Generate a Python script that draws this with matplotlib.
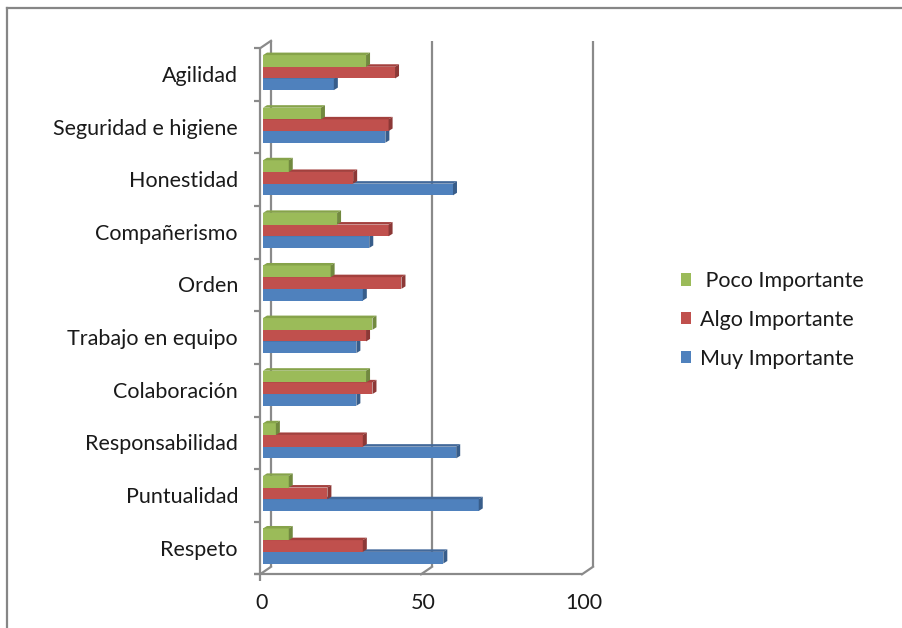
import matplotlib
matplotlib.use("Agg")
import matplotlib.pyplot as plt
from matplotlib.patches import Polygon, Patch
from matplotlib.lines import Line2D

# Survey data (percent of answers per value)
categories = ["Respeto", "Puntualidad", "Responsabilidad", "Colaboración",
              "Trabajo en equipo", "Orden", "Compañerismo", "Honestidad",
              "Seguridad e higiene", "Agilidad"]
muy_importante = [56, 67, 60, 29, 29, 31, 33, 59, 38, 22]
algo_importante = [31, 20, 31, 34, 32, 43, 39, 28, 39, 41]
poco_importante = [8, 8, 4, 32, 34, 21, 23, 8, 18, 32]
series_names = ["Muy Importante", "Algo Importante", " Poco Importante"]
x_ticks = [0, 50, 100]

face_colors = ["#4F81BD", "#C0504D", "#9BBB59"]
side_colors = ["#385D8A", "#8C3836", "#71893F"]
top_colors = ["#43699A", "#A3403D", "#86A34A"]

W, H, DPI = 903, 628, 100
fig = plt.figure(figsize=(W / DPI, H / DPI), dpi=DPI)
ax = fig.add_axes([0, 0, 1, 1])
ax.set_axis_off()

# pixel geometry of the plot
x0_px, px_per_unit = 263.0, 3.22
y0_px, px_per_cat = 546.0, 52.6
ax.set_xlim(-x0_px / px_per_unit, (W - x0_px) / px_per_unit)
ax.set_ylim((y0_px - H) / px_per_cat, y0_px / px_per_cat)


def ux(px):
    return px / px_per_unit


def uy(px):
    return px / px_per_cat


grid_c = "#8A8A8A"
lw = 1.6
n = len(categories)
y_bot, y_top = -0.5, n - 0.5

# plane offsets relative to the bar plane (pixels, y up)
front = (ux(-3), uy(-2))
back = (ux(8), uy(5.5))

# back wall grid lines and floor diagonals
for v in x_ticks:
    ax.plot([v + back[0], v + back[0]], [y_bot + back[1], y_top + back[1]],
            color=grid_c, lw=lw, zorder=1, solid_capstyle="butt")
    ax.plot([v + back[0], v + front[0]], [y_bot + back[1], y_bot + front[1]],
            color=grid_c, lw=lw, zorder=1)

# front floor line and left axis
ax.plot([front[0] - ux(6), x_ticks[-1] + front[0]], [y_bot + front[1]] * 2,
        color=grid_c, lw=lw, zorder=2, solid_capstyle="butt")
ax.plot([front[0]] * 2, [y_bot + front[1] - uy(7), y_top + front[1]],
        color=grid_c, lw=lw, zorder=2, solid_capstyle="butt")
ax.plot([front[0], back[0]], [y_top + front[1], y_top + back[1]],
        color=grid_c, lw=lw, zorder=2)
for k in range(n + 1):
    yb = k - 0.5 + front[1]
    ax.plot([front[0] - ux(6), front[0]], [yb, yb], color=grid_c, lw=lw,
            zorder=2, solid_capstyle="butt")

# 3D-style bars
h = 0.222
ddx, ddy = ux(4), uy(2.5)
all_series = [muy_importante, algo_importante, poco_importante]
offsets = [-h, 0.0, h]
z = 3
for s, (vals, off) in enumerate(zip(all_series, offsets)):
    for i, v in enumerate(vals):
        c = i + off
        lo, hi = c - h / 2, c + h / 2
        ax.barh(c, v, height=h, left=0, color=face_colors[s],
                edgecolor="none", zorder=z)
        ax.add_patch(Polygon([(0, hi), (v, hi), (v + ddx, hi + ddy),
                              (ddx, hi + ddy)], closed=True,
                             facecolor=top_colors[s], edgecolor="none",
                             zorder=z))
        ax.add_patch(Polygon([(v, lo), (v, hi), (v + ddx, hi + ddy),
                              (v + ddx, lo + ddy)], closed=True,
                             facecolor=side_colors[s], edgecolor="none",
                             zorder=z))
    z += 1

font = "Lato"
text_c = "#1A1A1A"
fs = 15.5
for i, name in enumerate(categories):
    ax.text(front[0] - ux(22), i - uy(3.5), name, ha="right", va="center",
            fontsize=fs, family=font, color=text_c)
for v in x_ticks:
    ax.text(v + front[0] + ux(2), uy(y0_px - 603), str(v), ha="center",
            va="center", fontsize=fs, family=font, color=text_c)

# legend
handles = [Patch(facecolor=face_colors[s], edgecolor="none")
           for s in (2, 1, 0)]
labels = [series_names[s] for s in (2, 1, 0)]
leg = ax.legend(handles, labels, loc="center left",
                bbox_to_anchor=(672 / W, 1 - 320 / H), frameon=False,
                prop={"family": font, "size": fs}, handlelength=0.5,
                handleheight=0.5, handletextpad=0.4, labelspacing=0.88,
                borderaxespad=0.0)
for t in leg.get_texts():
    t.set_color(text_c)

# outer chart border
fig.add_artist(Line2D([7 / W, 7 / W], [0, 1 - 8 / H], color="#868686",
                      lw=1.6, transform=fig.transFigure))
fig.add_artist(Line2D([7 / W, 1], [1 - 8 / H, 1 - 8 / H], color="#868686",
                      lw=1.6, transform=fig.transFigure))

fig.savefig("out.png", dpi=DPI, facecolor="white")
